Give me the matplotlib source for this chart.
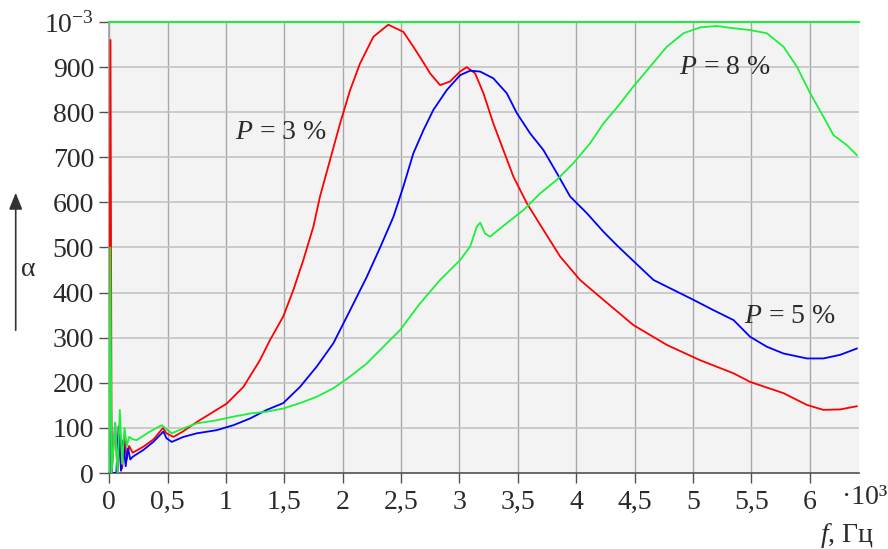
import matplotlib
matplotlib.use("Agg")
import matplotlib.pyplot as plt
from matplotlib.ticker import FixedLocator, FixedFormatter

plt.rcParams['font.family'] = ['Liberation Serif', 'DejaVu Serif']
plt.rcParams['mathtext.fontset'] = 'custom'
plt.rcParams['mathtext.rm'] = 'Liberation Serif'
plt.rcParams['mathtext.it'] = 'Liberation Serif:italic'

# f, 10^3 Hz ; alpha values
red_x = [0, 0.01, 0.02, 0.05, 0.07, 0.09, 0.11, 0.13, 0.15, 0.17, 0.2, 0.29, 0.38, 0.46, 0.49, 0.55, 0.63,
         0.749, 1.006, 1.149, 1.29, 1.377, 1.49, 1.577, 1.662, 1.748, 1.805, 1.891, 1.977, 2.063, 2.148,
         2.262, 2.39, 2.519, 2.605, 2.677, 2.748, 2.834, 2.919, 3.005, 3.062, 3.134, 3.205, 3.29, 3.376,
         3.462, 3.577, 3.719, 3.862, 4.033, 4.205, 4.49, 4.776, 5.062, 5.348, 5.49, 5.776, 5.976, 6.118,
         6.261, 6.404]
red_y = [0, 960, 0, 110, 0, 95, 10, 80, 30, 60, 45, 58, 75, 100, 88, 80, 92,
         113, 154, 191, 250, 295, 347, 406, 472, 546, 613, 694, 775, 849, 908,
         967, 994, 978, 945, 916, 886, 860, 868, 890, 900, 886, 842, 775, 716,
         657, 598, 539, 480, 428, 390, 328, 284, 250, 221, 202, 177, 151, 140,
         141, 148]

blue_x = [0, 0.01, 0.02, 0.06, 0.08, 0.1, 0.12, 0.14, 0.16, 0.18, 0.2, 0.291, 0.377, 0.463, 0.49, 0.535,
          0.634, 0.749, 0.92, 1.063, 1.206, 1.349, 1.49, 1.634, 1.777, 1.92, 2.063, 2.206, 2.32, 2.434,
          2.519, 2.605, 2.691, 2.776, 2.891, 3.005, 3.091, 3.177, 3.29, 3.405, 3.491, 3.605, 3.719, 3.834,
          3.948, 4.091, 4.233, 4.348, 4.49, 4.662, 4.833, 5.004, 5.176, 5.348, 5.49, 5.633, 5.776, 5.976,
          6.118, 6.261, 6.404]
blue_y = [0, 290, 0, 0, 103, 5, 73, 15, 55, 30, 36, 51, 69, 92, 77, 69,
          80, 88, 95, 106, 121, 140, 155, 191, 236, 288, 361, 435, 500, 568,
          635, 709, 760, 805, 849, 882, 892, 890, 875, 842, 798, 753, 716, 665,
          613, 576, 535, 505, 470, 428, 406, 384, 361, 339, 302, 280, 265, 254,
          254, 262, 276]

green_x = [0, 0.008, 0.02, 0.05, 0.07, 0.09, 0.11, 0.13, 0.15, 0.17, 0.2, 0.234, 0.349, 0.449, 0.535,
           0.634, 0.749, 0.92, 1.063, 1.206, 1.349, 1.49, 1.634, 1.777, 1.92, 2.063, 2.206, 2.348, 2.491,
           2.662, 2.834, 3.005, 3.091, 3.148, 3.177, 3.219, 3.262, 3.405, 3.548, 3.691, 3.834, 3.976,
           4.119, 4.233, 4.348, 4.49, 4.633, 4.776, 4.919, 5.062, 5.205, 5.348, 5.49, 5.633, 5.776,
           5.89, 6.004, 6.118, 6.204, 6.318, 6.404]
green_y = [0, 500, 0, 112, 0, 140, 20, 100, 60, 80, 75, 73, 92, 106, 88,
           99, 110, 117, 125, 132, 136, 143, 155, 169, 188, 214, 243, 280, 317,
           376, 428, 472, 502, 546, 555, 531, 524, 554, 583, 620, 650, 687,
           731, 775, 810, 857, 901, 945, 975, 988, 991, 986, 982, 975, 945,
           901, 842, 790, 749, 727, 705]

xticks = [0, 0.5, 1, 1.5, 2, 2.5, 3, 3.5, 4, 4.5, 5, 5.5, 6]
xtick_labels = ['0', '0,5', '1', '1,5', '2', '2,5', '3', '3,5', '4', '4,5', '5', '5,5', '6']
yticks = [0, 100, 200, 300, 400, 500, 600, 700, 800, 900, 1000]
ytick_labels = ['0', '100', '200', '300', '400', '500', '600', '700', '800', '900', r'$10^{-3}$']

FS = 20

fig = plt.figure(figsize=(8.88, 5.49), dpi=100)
ax = fig.add_axes([0.1231, 0.1384, 0.8439, 0.8216])
ax.set_facecolor('#f3f3f3')

ax.plot(red_x, red_y, color='#ff0000', lw=1.3, zorder=3)
ax.plot(blue_x, blue_y, color='#0000ff', lw=1.3, zorder=3)
ax.plot(green_x, green_y, color='#1cf03a', lw=1.3, zorder=3)

ax.set_xlim(0, 6.42)
ax.set_ylim(0, 1000)

ax.xaxis.set_major_locator(FixedLocator(xticks))
ax.xaxis.set_major_formatter(FixedFormatter(xtick_labels))
ax.yaxis.set_major_locator(FixedLocator(yticks))
ax.yaxis.set_major_formatter(FixedFormatter(ytick_labels))

for x in xticks:
    ax.axvline(x, color='#a8a8a8', lw=1.0, zorder=1)
for y in yticks[1:-1]:
    ax.axhline(y, color='#c4c4c4', lw=1.2, zorder=1)

ax.spines['right'].set_visible(False)
ax.spines['top'].set_color('#1cf03a')
ax.spines['top'].set_linewidth(1.5)
ax.spines['left'].set_color('#a0a0a0')
ax.spines['left'].set_linewidth(1.2)
ax.spines['bottom'].set_color('#505050')
ax.spines['bottom'].set_linewidth(1.2)

ax.tick_params(axis='both', direction='out', length=7, width=1.0, color='#505050',
               labelsize=FS, labelcolor='#2a2a2a')
ax.tick_params(axis='y', pad=4)
ax.tick_params(axis='x', pad=5)

tc = '#2a2a2a'
ax.text(1.47, 754, r'$P$ = 3 %', fontsize=FS, color=tc, ha='center', va='center')
ax.text(5.27, 898, r'$P$ = 8 %', fontsize=FS, color=tc, ha='center', va='center')
ax.text(6.22, 348, r'$P$ = 5 %', fontsize=FS, color=tc, ha='right', va='center')

fig.text(842 / 888, 1 - 497 / 549, '·10³', fontsize=FS, color=tc, ha='left', va='center')
fig.text(874 / 888, 1 - 536 / 549, r'$f$, Гц', fontsize=FS, color=tc, ha='right', va='center')

fig.patches.append(matplotlib.patches.FancyArrowPatch(
    (15.7 / 888, 1 - 333 / 549), (15.7 / 888, 1 - 190 / 549), transform=fig.transFigure,
    arrowstyle='-|>,head_length=10,head_width=4', color='#333333', lw=1.2, mutation_scale=1))
fig.text(28 / 888, 1 - 269 / 549, 'α', fontsize=FS, color=tc, ha='center', va='center')

fig.savefig('out.png', dpi=100)
